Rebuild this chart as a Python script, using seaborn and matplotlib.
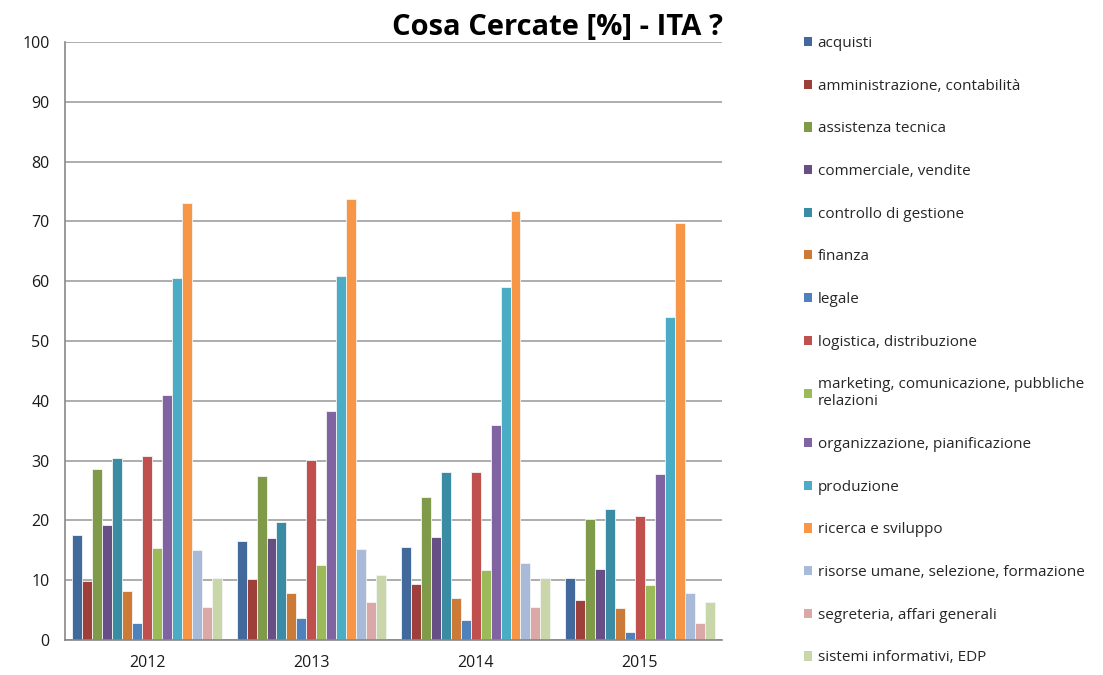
import matplotlib
matplotlib.use('Agg')
import pandas as pd
import seaborn as sns
import matplotlib.pyplot as plt
import numpy as np
from matplotlib.patches import Patch

# Data
years = ['2012', '2013', '2014', '2015']
categories = ['acquisti', 'amministrazione, contabilità', 'assistenza tecnica',
              'commerciale, vendite', 'controllo di gestione', 'finanza', 'legale',
              'logistica, distribuzione', 'marketing, comunicazione, pubbliche\nrelazioni',
              'organizzazione, pianificazione', 'produzione', 'ricerca e sviluppo',
              'risorse umane, selezione, formazione', 'segreteria, affari generali',
              'sistemi informativi, EDP']
val_2012 = [17.6, 9.8, 28.6, 19.3, 30.4, 8.2, 2.8, 30.8, 15.4, 40.9, 60.6, 73.0, 15.1, 5.6, 10.4]
val_2013 = [16.6, 10.2, 27.4, 17.1, 19.8, 7.9, 3.6, 30.1, 12.6, 38.3, 60.9, 73.8, 15.3, 6.3, 10.9]
val_2014 = [15.6, 9.4, 23.9, 17.3, 28.1, 7.0, 3.3, 28.1, 11.7, 36.0, 59.1, 71.8, 12.9, 5.6, 10.4]
val_2015 = [10.4, 6.7, 20.3, 11.9, 21.9, 5.3, 1.3, 20.8, 9.2, 27.7, 54.0, 69.7, 7.9, 2.8, 6.3]

colors = ['#41699C', '#9E3F3C', '#7F9A48', '#674F86', '#3A8BA4', '#CB7A37',
          '#4F81BD', '#C0504D', '#9BBB59', '#8064A2', '#4BACC6', '#F79646',
          '#A9B9D8', '#DAA8A7', '#C9D6AA']

df = pd.DataFrame({
    'anno': np.repeat(years, len(categories)),
    'settore': categories * len(years),
    'valore': val_2012 + val_2013 + val_2014 + val_2015,
})

sns.set_style('white')
plt.rcParams['font.family'] = ['Open Sans', 'DejaVu Sans']

fig = plt.figure(figsize=(11.03, 6.75), dpi=100)
ax = fig.add_axes([65 / 1103, 35 / 675, 657 / 1103, 598 / 675])

sns.barplot(data=df, x='anno', y='valore', hue='settore', hue_order=categories,
            palette=colors, width=0.91, saturation=1, errorbar=None,
            legend=False, linewidth=0.6, edgecolor='#F4F4F4', ax=ax)

ax.set_ylim(0, 100)
ax.set_xlim(-0.5, 3.5)
ax.set_yticks(range(0, 101, 10))
ax.set_xticks([-0.5, 0.5, 1.5, 2.5, 3.5])
ax.set_xticklabels([])
ax.set_xticks(range(4), minor=True)
ax.set_xticklabels(years, minor=True)
ax.tick_params(axis='x', which='major', direction='out', length=6, color='#888888', width=1)
ax.tick_params(axis='x', which='minor', length=0, labelsize=11.5, pad=11, labelcolor='#1a1a1a')
ax.tick_params(axis='y', direction='out', length=5, color='#888888', width=1,
               labelsize=11.5, labelcolor='#1a1a1a', pad=6)
ax.set_xlabel('')
ax.set_ylabel('')
ax.grid(axis='y', color='#A0A0A0', linewidth=1.2)
ax.set_axisbelow(True)
for s in ['top', 'right']:
    ax.spines[s].set_visible(False)
for s in ['left', 'bottom']:
    ax.spines[s].set_color('#888888')
    ax.spines[s].set_linewidth(1.2)

fig.text(558 / 1103, 1 - 27 / 675, 'Cosa Cercate [%] - ITA ?', ha='center', va='center',
         fontsize=21, fontweight='bold', color='black')

handles = [Patch(facecolor=c, edgecolor='none') for c in colors]
fig.legend(handles, categories, loc='upper left', bbox_to_anchor=(804 / 1103, 1 - 36 / 675),
           frameon=False, fontsize=11, handlelength=0.55, handleheight=0.55,
           handletextpad=0.35, labelspacing=1.81, borderaxespad=0, borderpad=0)

fig.savefig('out.png', dpi=100)
